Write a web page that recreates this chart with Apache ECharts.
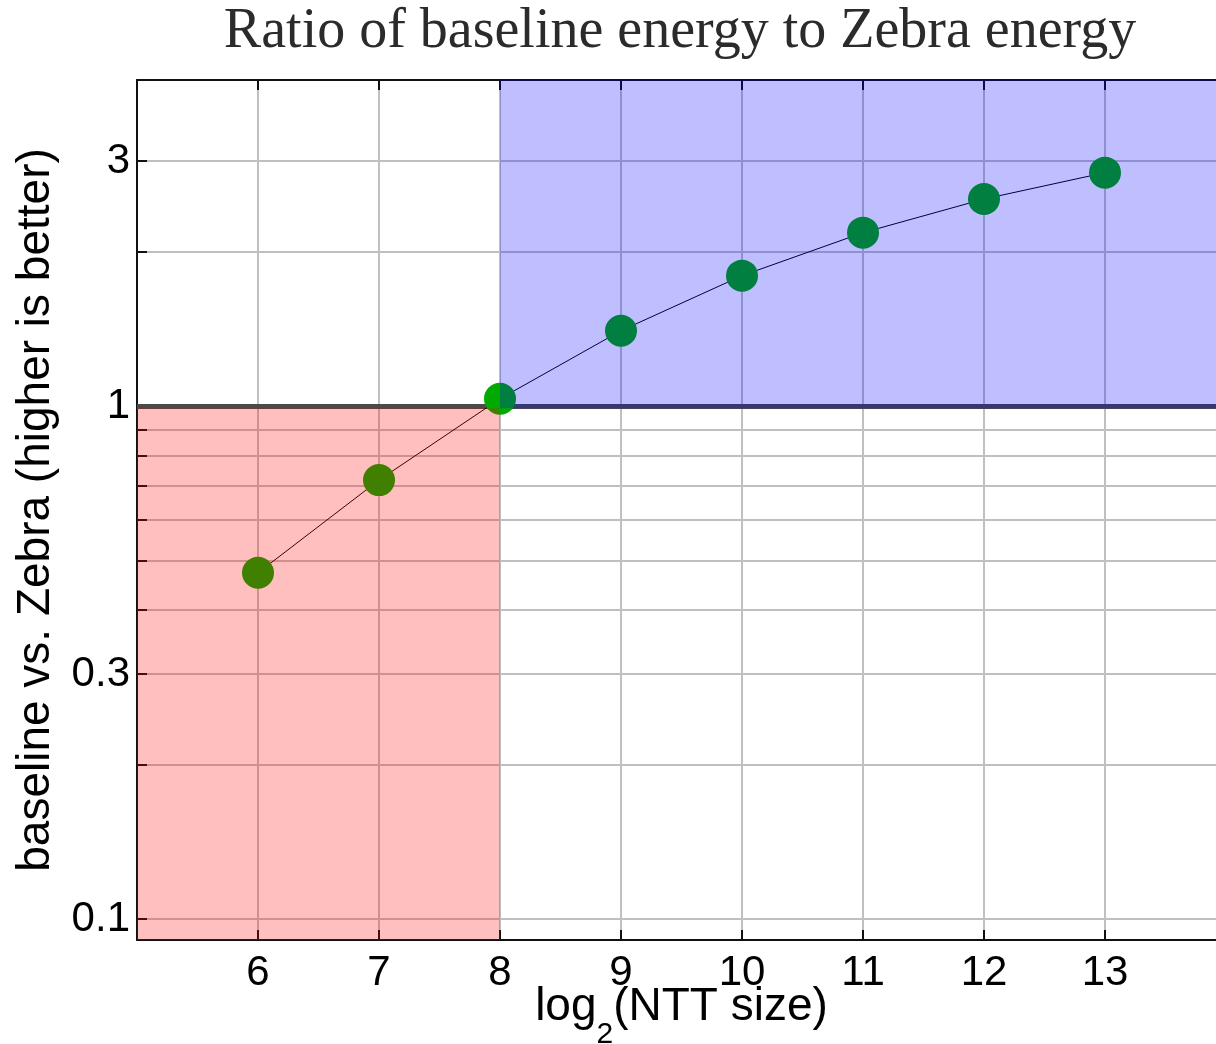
<!DOCTYPE html>
<html>
<head>
<meta charset="utf-8">
<script src="https://cdn.jsdelivr.net/npm/echarts@6/dist/echarts.min.js"></script>
<style>
	html, body { margin: 0; padding: 0; background: #fff; }
	#chart { width: 1216px; height: 1044px; }
</style>
</head>
<body>
<div id="chart"></div>
<script>
// 数据
const nttSizes = [6, 7, 8, 9, 10, 11, 12, 13];
const energyRatios = [0.473, 0.717, 1.033, 1.402, 1.795, 2.177, 2.532, 2.85];
const yLabelValues = [0.1, 0.3, 1, 3];
const yGridValues = [0.1, 0.2, 0.3, 0.4, 0.5, 0.6, 0.7, 0.8, 0.9, 1, 2, 3];
const xRange = [5, 14];
const yRange = [0.091, 4.32];
const breakEven = 1;
const splitSize = 8;
// 色块的边界稍低于参考线，让粗线两侧颜色一致
const regionEdge = 0.99;

const FONT = 'Liberation Sans';

const chart = echarts.init(document.getElementById('chart'));

const option = {
	animation: false,
	title: {
		text: 'Ratio of baseline energy to Zebra energy',
		left: 680,
		top: 4,
		textAlign: 'center',
		padding: 0,
		textStyle: {
			fontFamily: 'Liberation Serif',
			fontWeight: 'normal',
			fontSize: 56,
			color: '#2b2b2b',
		},
	},
	grid: {
		left: 137,
		right: -10,
		top: 80,
		bottom: 104,
		outerBoundsMode: 'none',
		containLabel: false,
	},
	xAxis: [
		{
			type: 'value',
			min: xRange[0],
			max: xRange[1],
			interval: 1,
			name: '{a|log}{b|2}{a|(NTT size)}',
			nameLocation: 'middle',
			nameGap: 44,
			nameMoveOverlap: false,
			nameTextStyle: {
				rich: {
					a: { fontFamily: FONT, fontSize: 46, color: '#000', verticalAlign: 'top', lineHeight: 48 },
					b: { fontFamily: FONT, fontSize: 30, color: '#000', verticalAlign: 'top', lineHeight: 30, padding: [36, 0, 0, 0] },
				},
			},
			axisLine: { show: true, lineStyle: { color: '#111', width: 2 } },
			axisTick: { show: true, inside: true, length: 10, lineStyle: { color: '#111', width: 2 } },
			axisLabel: {
				fontFamily: FONT,
				fontSize: 42,
				color: '#000',
				margin: 12,
				showMinLabel: false,
				showMaxLabel: false,
			},
			splitLine: { show: true, lineStyle: { color: '#c0c0c0', width: 2 } },
		},
		{
			type: 'value',
			position: 'top',
			min: xRange[0],
			max: xRange[1],
			interval: 1,
			axisLine: { show: true, lineStyle: { color: '#111', width: 2 } },
			axisTick: { show: true, inside: true, length: 10, lineStyle: { color: '#111', width: 2 } },
			axisLabel: { show: false },
			splitLine: { show: false },
		},
	],
	yAxis: {
		type: 'log',
		logBase: 10,
		min: yRange[0],
		max: yRange[1],
		name: 'baseline vs. Zebra (higher is better)',
		nameLocation: 'middle',
		nameGap: 78,
		nameMoveOverlap: false,
		nameTextStyle: { fontFamily: FONT, fontSize: 46, color: '#000' },
		axisLine: { show: true, lineStyle: { color: '#111', width: 2 } },
		axisTick: {
			show: true,
			inside: true,
			length: 10,
			customValues: yGridValues,
			lineStyle: { color: '#111', width: 2 },
		},
		axisLabel: {
			customValues: yLabelValues,
			fontFamily: FONT,
			fontSize: 42,
			color: '#000',
			margin: 7,
			formatter: (v) => String(v),
		},
		splitLine: { show: true, lineStyle: { color: '#c0c0c0', width: 2 } },
	},
	series: [
		{
			// 1 的参考线
			name: 'breakEven',
			type: 'line',
			data: [],
			markLine: {
				z: 1,
				silent: true,
				symbol: 'none',
				label: { show: false },
				lineStyle: { color: '#4a4a4a', width: 5, type: 'solid' },
				data: [{ yAxis: breakEven }],
			},
		},
		{
			name: 'ratio',
			type: 'line',
			z: 3,
			data: nttSizes.map((x, i) => [x, energyRatios[i]]),
			symbol: 'circle',
			symbolSize: 32,
			itemStyle: { color: '#00aa00' },
			lineStyle: { color: '#000', width: 1 },
		},
		{
			name: 'regions',
			type: 'line',
			data: [],
			markArea: {
				z: 10,
				silent: true,
				data: [
					[
						{ xAxis: xRange[0], yAxis: yRange[0], itemStyle: { color: 'rgba(255,0,0,0.25)' } },
						{ xAxis: splitSize, yAxis: regionEdge },
					],
					[
						{ xAxis: splitSize, yAxis: regionEdge, itemStyle: { color: 'rgba(0,0,255,0.25)' } },
						{ xAxis: xRange[1], yAxis: yRange[1] },
					],
				],
			},
		},
	],
};

chart.setOption(option);
</script>
</body>
</html>
